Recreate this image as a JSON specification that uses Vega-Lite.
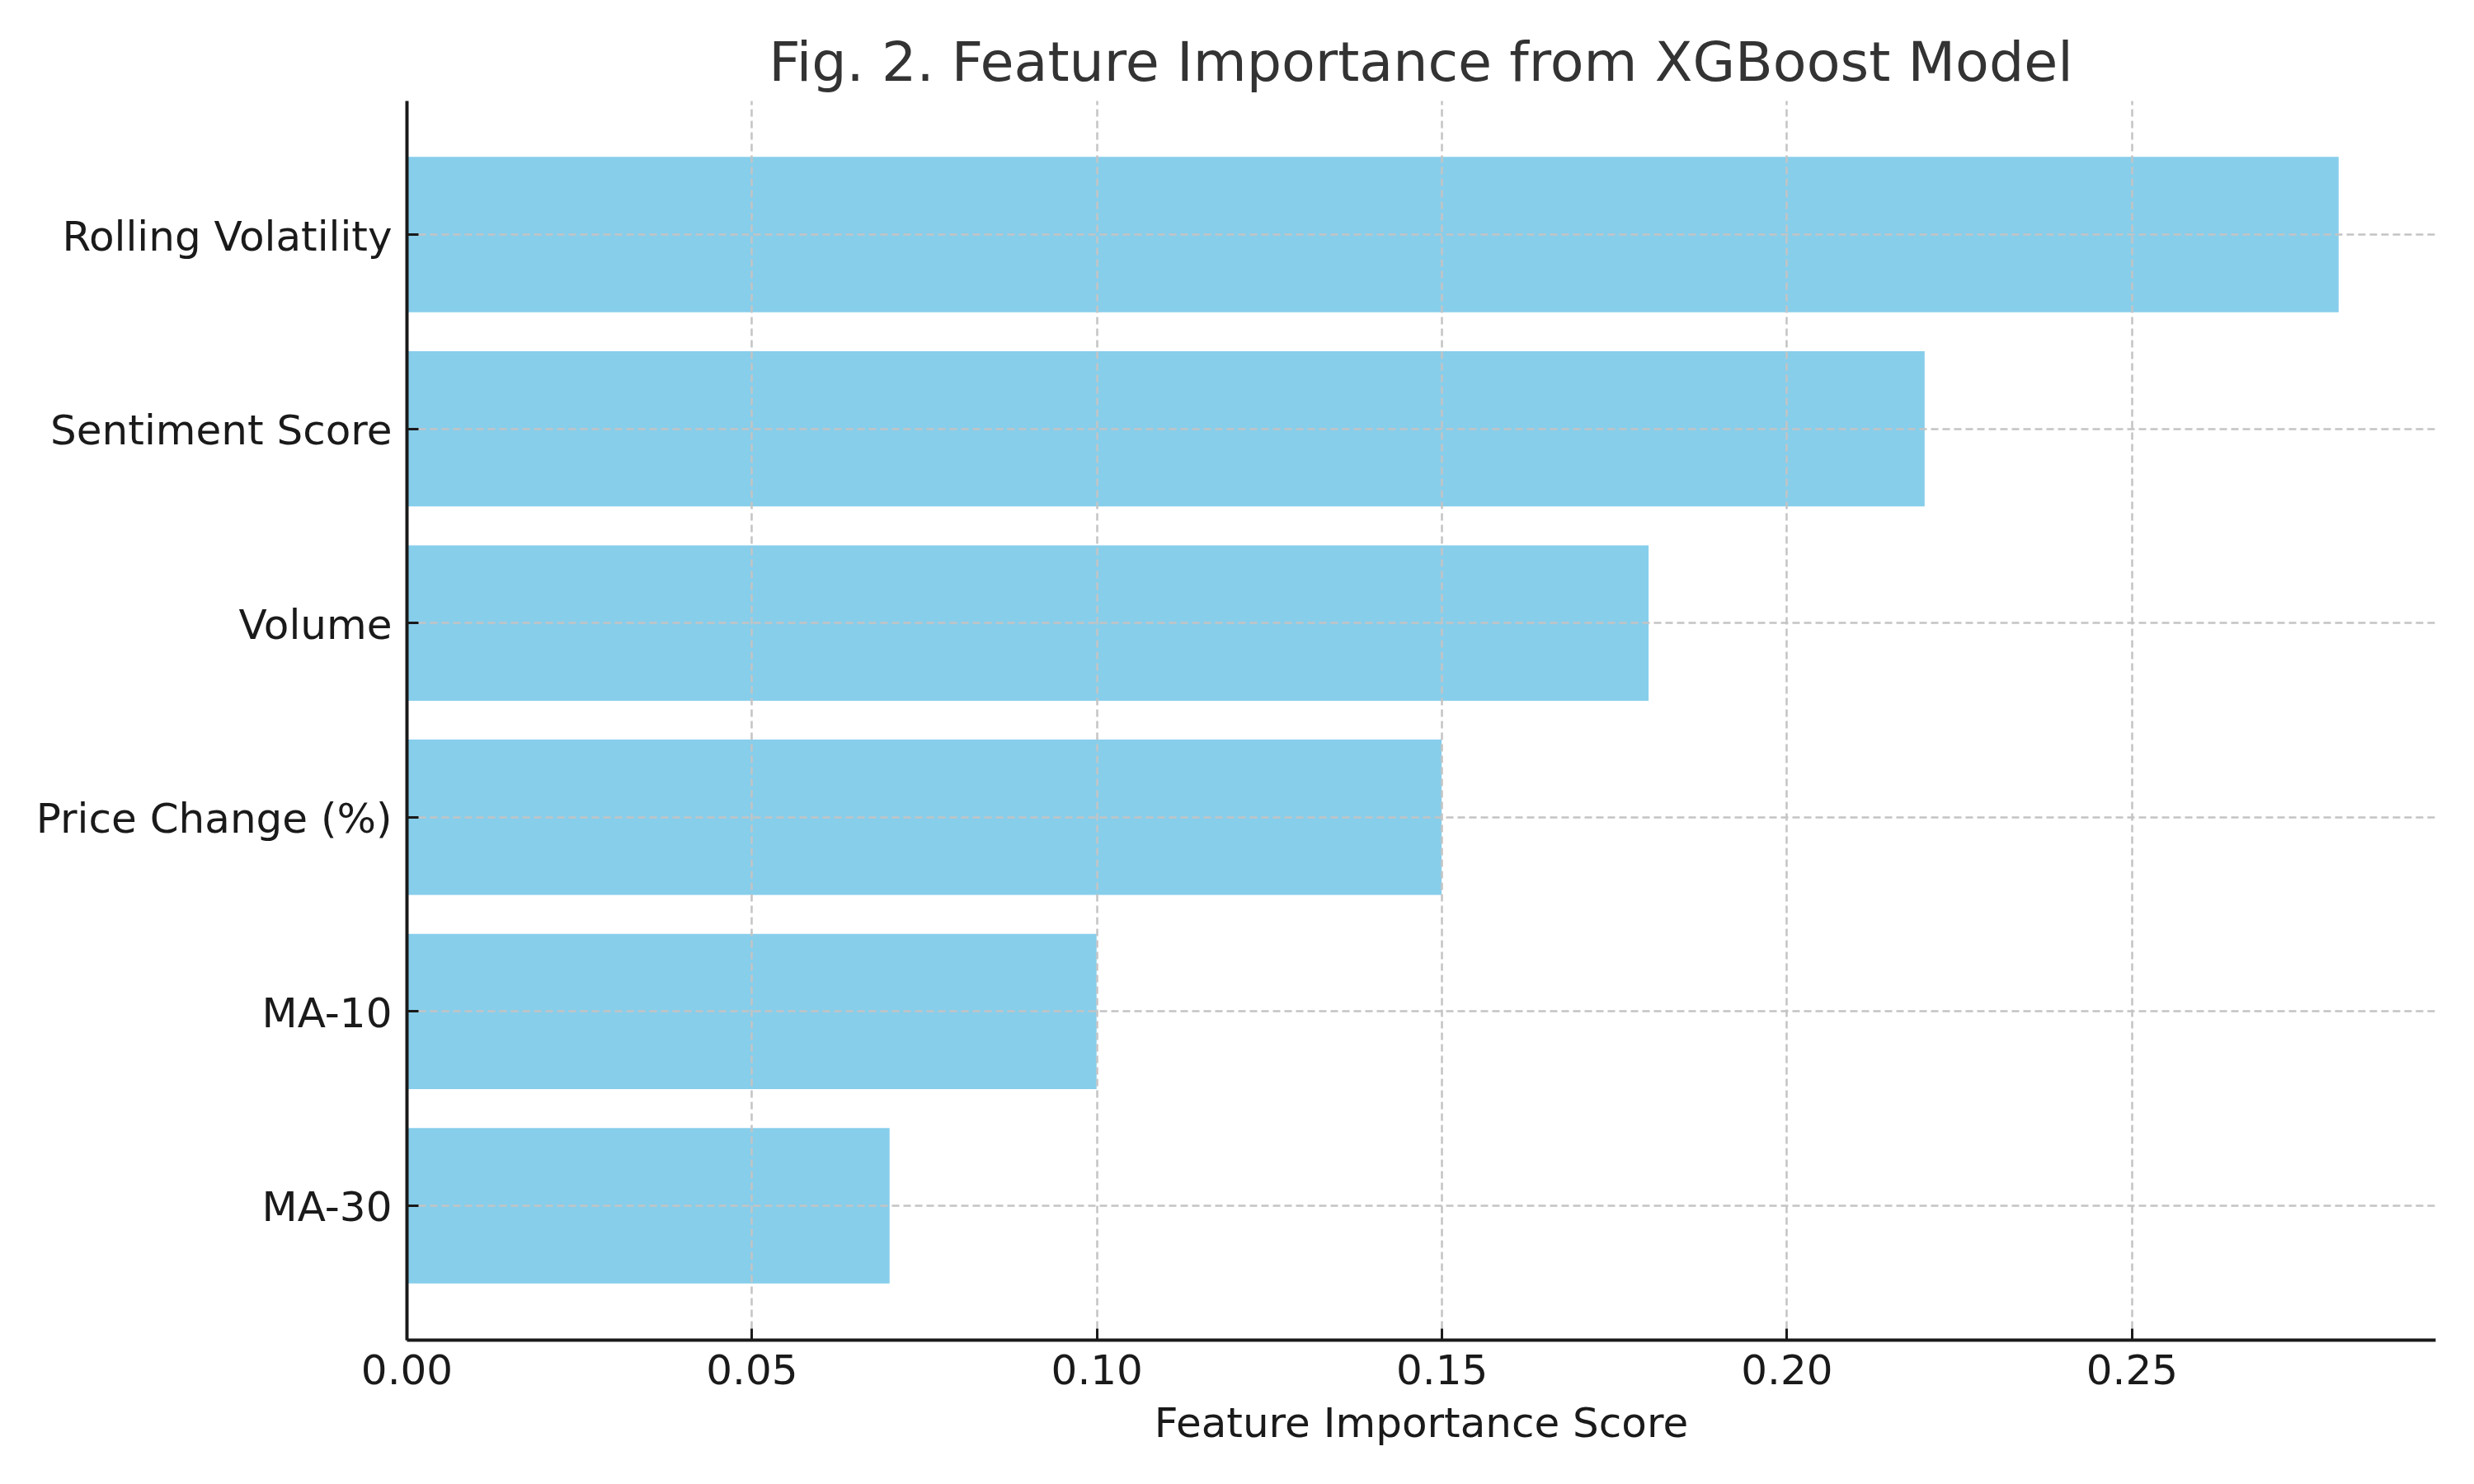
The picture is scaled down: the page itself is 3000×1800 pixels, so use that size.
{
  "$schema": "https://vega.github.io/schema/vega-lite/v6.json",
  "width": 2460,
  "height": 1503,
  "autosize": {"type": "none"},
  "padding": {"left": 493, "top": 122, "right": 47, "bottom": 175},
  "background": "white",
  "title": {
    "text": "Fig. 2. Feature Importance from XGBoost Model",
    "font": "DejaVu Sans",
    "fontSize": 66.7,
    "fontWeight": "normal",
    "color": "#333333",
    "anchor": "middle",
    "frame": "group",
    "baseline": "alphabetic",
    "offset": -43
  },
  "config": {
    "view": {"stroke": null},
    "font": "DejaVu Sans"
  },
  "data": {
    "values": [
      {"feature": "Rolling Volatility", "importance": 0.28},
      {"feature": "Sentiment Score", "importance": 0.22},
      {"feature": "Volume", "importance": 0.18},
      {"feature": "Price Change (%)", "importance": 0.15},
      {"feature": "MA-10", "importance": 0.10},
      {"feature": "MA-30", "importance": 0.07}
    ]
  },
  "mark": {"type": "bar", "color": "#87CEEB"},
  "encoding": {
    "y": {
      "field": "feature",
      "type": "nominal",
      "sort": null,
      "scale": {"paddingInner": 0.2, "paddingOuter": 0.29},
      "axis": {
        "title": null,
        "zindex": 1,
        "domainColor": "#1a1a1a",
        "domainWidth": 4,
        "tickColor": "#1a1a1a",
        "tickWidth": 3,
        "tickSize": -14,
        "labelPadding": 32,
        "labelOffset": 4,
        "labelLimit": 0,
        "labelFont": "DejaVu Sans",
        "labelFontSize": 50,
        "labelColor": "#1a1a1a",
        "grid": true,
        "gridColor": "#c4c4c4",
        "gridWidth": 2.5,
        "gridDash": [9, 5]
      }
    },
    "x": {
      "field": "importance",
      "type": "quantitative",
      "scale": {"domain": [0, 0.294], "nice": false, "zero": true},
      "axis": {
        "title": "Feature Importance Score",
        "values": [0, 0.05, 0.1, 0.15, 0.2, 0.25],
        "format": ".2f",
        "zindex": 1,
        "domainColor": "#1a1a1a",
        "domainWidth": 4,
        "tickColor": "#1a1a1a",
        "tickWidth": 3,
        "tickSize": -14,
        "labelPadding": 27,
        "labelFont": "DejaVu Sans",
        "labelFontSize": 50,
        "labelColor": "#1a1a1a",
        "labelFlush": false,
        "titleFont": "DejaVu Sans",
        "titleFontSize": 50,
        "titleFontWeight": "normal",
        "titleColor": "#1a1a1a",
        "titleBaseline": "alphabetic",
        "titleY": 117,
        "grid": true,
        "gridColor": "#c4c4c4",
        "gridWidth": 2.5,
        "gridDash": [9, 5]
      }
    }
  }
}
